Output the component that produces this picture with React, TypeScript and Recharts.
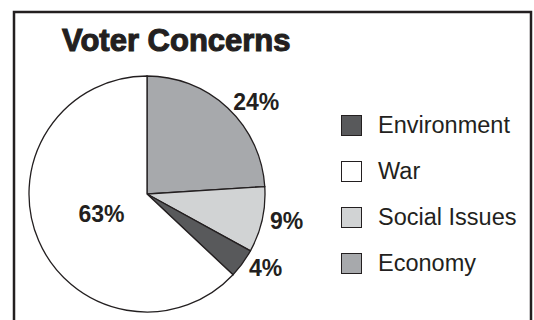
import React from 'react'
import { PieChart, Pie, Cell, Legend } from 'recharts'

const categories = ['Economy', 'Social Issues', 'Environment', 'War']
const shares = [24, 9, 4, 63]
const fills = ['#a7a9ac', '#d1d3d4', '#58595b', '#ffffff']
const legendOrder = ['Environment', 'War', 'Social Issues', 'Economy']

const data = categories.map((name, i) => ({ name, value: shares[i] }))

const INK = '#231f20'
const RAD = Math.PI / 180

const renderLabel = (props: any) => {
  const { cx, cy, midAngle, outerRadius, percent, value } = props
  const cos = Math.cos(-midAngle * RAD)
  const sin = Math.sin(-midAngle * RAD)
  if (percent > 0.5) {
    const r = outerRadius * 0.42
    return (
      <text
        x={cx + r * cos}
        y={cy + r * sin}
        textAnchor="middle"
        dominantBaseline="central"
        fill={INK}
        fontSize={23}
        fontWeight="bold"
        fontFamily="'Liberation Sans', Arial, sans-serif"
      >
        {value}%
      </text>
    )
  }
  const r = outerRadius + 8
  return (
    <text
      x={cx + r * cos}
      y={cy + r * sin}
      textAnchor={cos >= 0 ? 'start' : 'end'}
      dominantBaseline="central"
      fill={INK}
      fontSize={23}
      fontWeight="bold"
      fontFamily="'Liberation Sans', Arial, sans-serif"
    >
      {value}%
    </text>
  )
}

const renderLegend = () => (
  <div style={{ fontFamily: "'Liberation Sans', Arial, sans-serif" }}>
    {legendOrder.map((name) => {
      const i = categories.indexOf(name)
      return (
        <div key={name} style={{ display: 'flex', alignItems: 'center', height: 46 }}>
          <div
            style={{
              width: 19,
              height: 19,
              background: fills[i],
              border: `1.5px solid ${INK}`,
              marginRight: 16
            }}
          />
          <span style={{ fontSize: 23.5, color: INK, lineHeight: '24px' }}>{name}</span>
        </div>
      )
    })}
  </div>
)

export default function App() {
  return (
    <div style={{ position: 'fixed', left: 0, top: 0, width: 534, height: 320, background: '#fff' }}>
      <svg width={534} height={320} style={{ position: 'absolute', left: 0, top: 0 }}>
        <path d="M14 321 V12 H531 V321" fill="none" stroke={INK} strokeWidth={2.5} />
        <text
          x={62}
          y={51}
          fill={INK}
          fontSize={31}
          fontWeight="bold"
          stroke={INK}
          strokeWidth={1.1}
          fontFamily="'Liberation Sans', Arial, sans-serif"
        >
          Voter Concerns
        </text>
      </svg>
      <div style={{ position: 'absolute', left: 0, top: 0 }}>
        <PieChart width={534} height={320} margin={{ top: 0, right: 0, bottom: 0, left: 0 }}>
          <Pie
            data={data}
            dataKey="value"
            nameKey="name"
            cx={147}
            cy={194}
            outerRadius={118}
            startAngle={90}
            endAngle={-270}
            stroke={INK}
            strokeWidth={1.3}
            label={renderLabel}
            labelLine={false}
            isAnimationActive={false}
          >
            {data.map((d, i) => (
              <Cell key={d.name} fill={fills[i]} />
            ))}
          </Pie>
          <Legend
            content={renderLegend}
            wrapperStyle={{ position: 'absolute', left: 341, top: 102, width: 190 }}
          />
        </PieChart>
      </div>
    </div>
  )
}
